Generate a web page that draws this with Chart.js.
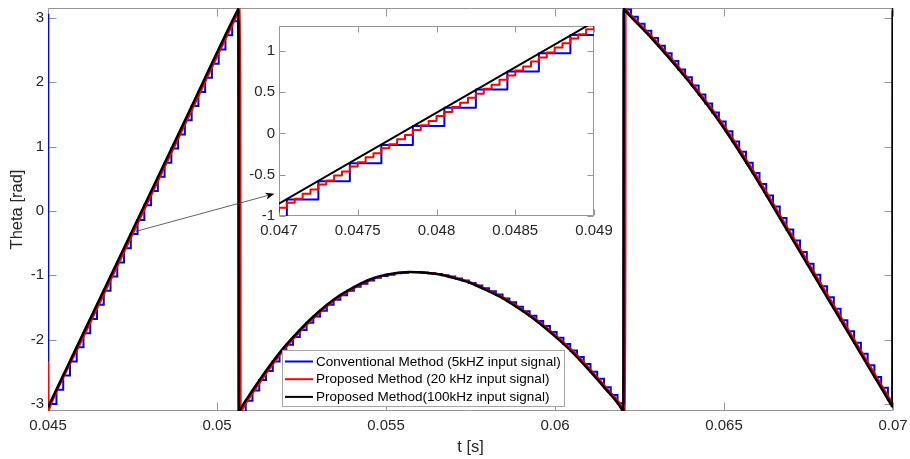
<!DOCTYPE html>
<html>
<head>
<meta charset="utf-8">
<script src="https://cdn.jsdelivr.net/npm/chart.js@4.4.1/dist/chart.umd.min.js"></script>
<style>
html, body { margin: 0; padding: 0; background: #fff; }
#wrap { position: relative; width: 910px; height: 459px; }
#main { position: absolute; left: 0; top: 0; }
#zoom { position: absolute; left: 230px; top: 15px; }
</style>
</head>
<body>
<div id="wrap">
  <canvas id="main" width="910" height="459"></canvas>
  <canvas id="zoom" width="400" height="240"></canvas>
</div>
<script>
// series names (legend)
const seriesNames = [
  'Conventional Method (5kHZ input signal)',
  'Proposed Method (20 kHz input signal)',
  'Proposed Method(100kHz input signal)'
];
const xTitle = 't [s]';
const yTitle = 'Theta [rad]';

// axis ticks
const xTicks = [0.045, 0.05, 0.055, 0.06, 0.065, 0.07];
const xTickLabels = ['0.045', '0.05', '0.055', '0.06', '0.065', '0.07'];
const yTicks = [-3, -2, -1, 0, 1, 2, 3];
const yTickLabels = ['-3', '-2', '-1', '0', '1', '2', '3'];
const zoomXTicks = [0.047, 0.0475, 0.048, 0.0485, 0.049];
const zoomXTickLabels = ['0.047', '0.0475', '0.048', '0.0485', '0.049'];
const zoomYTicks = [-1, -0.5, 0, 0.5, 1];
const zoomYTickLabels = ['-1', '-0.5', '0', '0.5', '1'];

// conventional method, 5 kHz samples (zero order hold)
const blueT = [0.045, 0.04501,
  0.04505, 0.04525, 0.04545, 0.04565, 0.04585, 0.04605, 0.04625, 0.04645, 0.04665, 0.04685,
  0.04705, 0.04725, 0.04745, 0.04765, 0.04785, 0.04805, 0.04825, 0.04845, 0.04865, 0.04885,
  0.04905, 0.04925, 0.04945, 0.04965, 0.04985, 0.05005, 0.05025, 0.05045, 0.05065, 0.05085,
  0.05105, 0.05125, 0.05145, 0.05165, 0.05185, 0.05205, 0.05225, 0.05245, 0.05265, 0.05285,
  0.05305, 0.05325, 0.05345, 0.05365, 0.05385, 0.05405, 0.05425, 0.05445, 0.05465, 0.05485,
  0.05505, 0.05525, 0.05545, 0.05565, 0.05585, 0.05605, 0.05625, 0.05645, 0.05665, 0.05685,
  0.05705, 0.05725, 0.05745, 0.05765, 0.05785, 0.05805, 0.05825, 0.05845, 0.05865, 0.05885,
  0.05905, 0.05925, 0.05945, 0.05965, 0.05985, 0.06005, 0.06025, 0.06045, 0.06065, 0.06085,
  0.06105, 0.06125, 0.06145, 0.06165, 0.06185, 0.06205, 0.06225, 0.06245, 0.06265, 0.06285,
  0.06305, 0.06325, 0.06345, 0.06365, 0.06385, 0.06405, 0.06425, 0.06445, 0.06465, 0.06485,
  0.06505, 0.06525, 0.06545, 0.06565, 0.06585, 0.06605, 0.06625, 0.06645, 0.06665, 0.06685,
  0.06705, 0.06725, 0.06745, 0.06765, 0.06785, 0.06805, 0.06825, 0.06845, 0.06865, 0.06885,
  0.06905, 0.06925, 0.06945, 0.06965, 0.06985, 0.07];
const blueV = [3.05, -3.05,
  -3.00, -2.78, -2.56, -2.34, -2.12, -1.90, -1.68, -1.46, -1.24, -1.02,
  -0.80, -0.58, -0.36, -0.14, 0.09, 0.31, 0.53, 0.75, 0.97, 1.19,
  1.41, 1.63, 1.85, 2.07, 2.29, 2.51, 2.73, 2.95, -3.12, -2.95,
  -2.79, -2.63, -2.49, -2.34, -2.21, -2.08, -1.96, -1.85, -1.74, -1.64,
  -1.55, -1.46, -1.38, -1.31, -1.24, -1.18, -1.13, -1.08, -1.04, -1.01,
  -0.99, -0.97, -0.96, -0.95, -0.95, -0.96, -0.97, -0.98, -1.00, -1.02,
  -1.05, -1.08, -1.12, -1.16, -1.20, -1.25, -1.30, -1.36, -1.42, -1.49,
  -1.56, -1.63, -1.71, -1.79, -1.88, -1.97, -2.07, -2.17, -2.27, -2.38,
  -2.50, -2.61, -2.74, -2.86, -2.99, 3.13, 3.02, 2.91, 2.80, 2.69,
  2.57, 2.45, 2.33, 2.20, 2.08, 1.95, 1.81, 1.67, 1.53, 1.39,
  1.24, 1.08, 0.92, 0.75, 0.59, 0.42, 0.24, 0.07, -0.11, -0.29,
  -0.46, -0.64, -0.82, -0.99, -1.17, -1.34, -1.52, -1.70, -1.87, -2.05,
  -2.22, -2.40, -2.58, -2.75, -2.93, -2.93];

// proposed method, 20 kHz (main view)
const redT = [0.045, 0.04501, 0.04503, 0.04606, 0.04756, 0.04906, 0.05066, 0.05069,
  0.0507, 0.05076, 0.05106, 0.05156, 0.05206, 0.05256, 0.05306, 0.05356, 0.05406, 0.05456,
  0.05506, 0.05576, 0.05656, 0.05706, 0.05756, 0.05806, 0.05856, 0.05906, 0.05956, 0.06006,
  0.06056, 0.06106, 0.06156, 0.06204, 0.06208, 0.06209, 0.06214, 0.06296, 0.06396, 0.06496,
  0.06596, 0.06696, 0.06796, 0.06896, 0.06996, 0.07006];
const redV = [-2.34, -3.11, -3.08, -1.95, -0.30, 1.35, 3.11, 3.14,
  -3.14, -3.075, -2.83, -2.45, -2.11, -1.82, -1.57, -1.36, -1.20, -1.07,
  -0.99, -0.95, -0.98, -1.04, -1.12, -1.24, -1.37, -1.54, -1.73, -1.95,
  -2.19, -2.47, -2.77, -3.09, -3.14, 3.14, 3.11, 2.66, 2.05, 1.36,
  0.55, -0.33, -1.21, -2.09, -2.97, -3.06];

// proposed method, 20 kHz samples inside the zoom window
const redZoomT = [0.04695, 0.04700, 0.04705, 0.04710, 0.04715, 0.04720, 0.04725, 0.04730,
  0.04735, 0.04740, 0.04745, 0.04750, 0.04755, 0.04760, 0.04765, 0.04770, 0.04775, 0.04780,
  0.04785, 0.04790, 0.04795, 0.04800, 0.04805, 0.04810, 0.04815, 0.04820, 0.04825, 0.04830,
  0.04835, 0.04840, 0.04845, 0.04850, 0.04855, 0.04860, 0.04865, 0.04870, 0.04875, 0.04880,
  0.04885, 0.04890, 0.04895, 0.04900, 0.04905];
const redZoomV = [-0.95, -0.90, -0.84, -0.79, -0.73, -0.68, -0.62, -0.57,
  -0.51, -0.46, -0.40, -0.35, -0.29, -0.24, -0.18, -0.13, -0.07, -0.02,
  0.04, 0.10, 0.15, 0.21, 0.26, 0.32, 0.37, 0.43, 0.48, 0.54,
  0.59, 0.65, 0.70, 0.76, 0.81, 0.87, 0.92, 0.98, 1.04, 1.09,
  1.15, 1.20, 1.26, 1.31, 1.37];

// proposed method, 100 kHz
const blackT = [0.045, 0.046, 0.0475, 0.049, 0.0506, 0.05063, 0.05064, 0.0507, 0.0510,
  0.0515, 0.0520, 0.0525, 0.0530, 0.0535, 0.0540, 0.0545, 0.0550, 0.0557, 0.0565, 0.0570,
  0.0575, 0.0580, 0.0585, 0.0590, 0.0595, 0.0600, 0.0605, 0.0610, 0.0615, 0.06198,
  0.06202, 0.06203, 0.06208, 0.0629, 0.0639, 0.0649, 0.0659, 0.0669, 0.0679, 0.0689,
  0.0699, 0.06998, 0.06999, 0.07];
const blackV = [-3.05, -1.95, -0.30, 1.35, 3.11, 3.14, -3.14, -3.075, -2.83,
  -2.45, -2.11, -1.82, -1.57, -1.36, -1.20, -1.07, -0.99, -0.95, -0.98, -1.04,
  -1.12, -1.24, -1.37, -1.54, -1.73, -1.95, -2.19, -2.47, -2.77, -3.09,
  -3.14, 3.14, 3.11, 2.66, 2.05, 1.36, 0.55, -0.33, -1.21, -2.09,
  -2.97, -3.04, 3.14, 3.13];

// arrow from the curve to the zoom box (data coords)
const arrowFrom = { x: 0.047605, y: -0.317 };
const arrowTo = { x: 0.0517, y: 0.269 };

const FONT = '"Liberation Sans", Arial, Helvetica, sans-serif';
const AXIS_GRAY = '#969696';
const TEXT_GRAY = '#262626';
const seriesColors = ['#0000ff', '#ff0000', '#000000'];

function pts(ts, vs) {
  return ts.map((t, i) => ({ x: t, y: vs[i] }));
}

// keep chart.js from reserving room for overhanging tick labels
function noPad(s) {
  s.paddingLeft = 0; s.paddingRight = 0; s.paddingTop = 0; s.paddingBottom = 0;
}

// matlab style box with inward ticks
const matlabBox = {
  id: 'matlabBox',
  beforeDraw(chart, args, opts) {
    const a = chart.chartArea, ctx = chart.ctx;
    ctx.save();
    ctx.fillStyle = '#fff';
    ctx.fillRect(a.left, a.top, a.right - a.left, a.bottom - a.top);
    ctx.restore();
  },
  beforeDatasetsDraw(chart, args, opts) {
    const a = chart.chartArea, ctx = chart.ctx;
    const x = chart.scales.x, y = chart.scales.y;
    const L = opts.len || 8;
    const l = Math.round(a.left) + 0.5, r = Math.round(a.right) - 0.5;
    const t = Math.round(a.top) + 0.5, b = Math.round(a.bottom) - 0.5;
    ctx.save();
    ctx.strokeStyle = AXIS_GRAY;
    ctx.lineWidth = 1;
    ctx.beginPath();
    ctx.rect(l, t, r - l, b - t);
    x.ticks.forEach(tk => {
      const px = Math.round(x.getPixelForValue(tk.value)) + 0.5;
      ctx.moveTo(px, b); ctx.lineTo(px, b - L);
      ctx.moveTo(px, t); ctx.lineTo(px, t + L);
    });
    y.ticks.forEach(tk => {
      const py = Math.round(y.getPixelForValue(tk.value)) + 0.5;
      ctx.moveTo(l, py); ctx.lineTo(l + L, py);
      ctx.moveTo(r, py); ctx.lineTo(r - L, py);
    });
    ctx.stroke();
    ctx.restore();
  }
};

// axis titles, arrow and legend of the main axes
const mainDecor = {
  id: 'mainDecor',
  afterDatasetsDraw(chart) {
    const ctx = chart.ctx, x = chart.scales.x, y = chart.scales.y;
    const x0 = x.getPixelForValue(arrowFrom.x), y0 = y.getPixelForValue(arrowFrom.y);
    const x1 = x.getPixelForValue(arrowTo.x), y1 = y.getPixelForValue(arrowTo.y);
    const ang = Math.atan2(y1 - y0, x1 - x0);
    ctx.save();
    ctx.strokeStyle = '#3a3a3a';
    ctx.lineWidth = 0.8;
    ctx.beginPath();
    ctx.moveTo(x0, y0);
    ctx.lineTo(x1 - 6 * Math.cos(ang), y1 - 6 * Math.sin(ang));
    ctx.stroke();
    ctx.fillStyle = '#000';
    ctx.translate(x1, y1);
    ctx.rotate(ang);
    ctx.beginPath();
    ctx.moveTo(0, 0);
    ctx.lineTo(-9, -3.5);
    ctx.lineTo(-6.5, 0);
    ctx.lineTo(-9, 3.5);
    ctx.closePath();
    ctx.fill();
    ctx.restore();
  },
  afterDraw(chart) {
    const ctx = chart.ctx, a = chart.chartArea;
    ctx.save();
    ctx.fillStyle = TEXT_GRAY;
    ctx.font = '16.5px ' + FONT;
    ctx.textAlign = 'center';
    ctx.textBaseline = 'middle';
    ctx.fillText(xTitle, (a.left + a.right) / 2, 447.5);
    ctx.translate(17, (a.top + a.bottom) / 2);
    ctx.rotate(-Math.PI / 2);
    ctx.fillText(yTitle, 0, 0);
    ctx.restore();

    // legend
    const bx = 282.5, by = 350.5, bw = 282, bh = 56;
    ctx.save();
    ctx.fillStyle = '#fff';
    ctx.fillRect(bx, by, bw, bh);
    ctx.strokeStyle = '#a6a6a6';
    ctx.lineWidth = 1;
    ctx.strokeRect(bx, by, bw, bh);
    ctx.font = '13.5px ' + FONT;
    ctx.textAlign = 'left';
    ctx.textBaseline = 'middle';
    seriesNames.forEach((name, i) => {
      const ry = 361.5 + i * 17.7;
      ctx.strokeStyle = seriesColors[i];
      ctx.lineWidth = 2;
      ctx.beginPath();
      ctx.moveTo(285, ry);
      ctx.lineTo(313, ry);
      ctx.stroke();
      ctx.fillStyle = '#000';
      ctx.fillText(name, 316, ry + 0.5);
    });
    ctx.restore();
  }
};

function tickFont() {
  return { family: FONT, size: 15 };
}

// main axes
new Chart(document.getElementById('main'), {
  type: 'line',
  data: {
    datasets: [
      { label: seriesNames[0], data: pts(blueT, blueV), borderColor: seriesColors[0],
        borderWidth: 2, stepped: true, pointRadius: 0, fill: false, order: 3 },
      { label: seriesNames[1], data: pts(redT, redV), borderColor: seriesColors[1],
        borderWidth: 2, cubicInterpolationMode: 'monotone', pointRadius: 0, fill: false, order: 2 },
      { label: seriesNames[2], data: pts(blackT, blackV), borderColor: seriesColors[2],
        borderWidth: 2.5, cubicInterpolationMode: 'monotone', pointRadius: 0, fill: false, order: 1 }
    ]
  },
  options: {
    responsive: false,
    animation: false,
    events: [],
    layout: { padding: { left: 0, top: 8, right: 17, bottom: 0 } },
    elements: { line: { capBezierPoints: false, borderJoinStyle: 'miter' } },
    plugins: { legend: { display: false }, tooltip: { enabled: false }, matlabBox: { len: 8 } },
    scales: {
      x: {
        type: 'linear', min: 0.045, max: 0.07,
        grid: { display: false, drawTicks: false }, border: { display: false },
        afterBuildTicks: s => { s.ticks = xTicks.map(v => ({ value: v })); },
        afterFit: s => { s.height = 48; noPad(s); },
        ticks: { autoSkip: false, maxRotation: 0, padding: 6, color: TEXT_GRAY, font: tickFont(),
          callback: v => xTickLabels[xTicks.indexOf(v)] }
      },
      y: {
        type: 'linear', min: -3.11, max: 3.155,
        grid: { display: false, drawTicks: false }, border: { display: false },
        afterBuildTicks: s => { s.ticks = yTicks.map(v => ({ value: v })); },
        afterFit: s => { s.width = 48; noPad(s); },
        ticks: { autoSkip: false, padding: 4, color: TEXT_GRAY, font: tickFont(),
          callback: v => yTickLabels[yTicks.indexOf(v)] }
      }
    }
  },
  plugins: [matlabBox, mainDecor]
});

// zoom inset
new Chart(document.getElementById('zoom'), {
  type: 'line',
  data: {
    datasets: [
      { label: seriesNames[0], data: pts(blueT, blueV), borderColor: seriesColors[0],
        borderWidth: 2, stepped: true, pointRadius: 0, fill: false, order: 3 },
      { label: seriesNames[1], data: pts(redZoomT, redZoomV), borderColor: seriesColors[1],
        borderWidth: 2, stepped: true, pointRadius: 0, fill: false, order: 2 },
      { label: seriesNames[2], data: pts(blackT, blackV), borderColor: seriesColors[2],
        borderWidth: 2, cubicInterpolationMode: 'monotone', pointRadius: 0, fill: false, order: 1 }
    ]
  },
  options: {
    responsive: false,
    animation: false,
    events: [],
    layout: { padding: { left: 0, top: 11, right: 36, bottom: 0 } },
    elements: { line: { capBezierPoints: false, borderJoinStyle: 'round' } },
    plugins: { legend: { display: false }, tooltip: { enabled: false }, matlabBox: { len: 6 } },
    scales: {
      x: {
        type: 'linear', min: 0.047, max: 0.049,
        grid: { display: false, drawTicks: false }, border: { display: false },
        afterBuildTicks: s => { s.ticks = zoomXTicks.map(v => ({ value: v })); },
        afterFit: s => { s.height = 39; noPad(s); },
        ticks: { autoSkip: false, maxRotation: 0, padding: 6, color: TEXT_GRAY, font: tickFont(),
          callback: v => zoomXTickLabels[zoomXTicks.indexOf(v)] }
      },
      y: {
        type: 'linear', min: -1, max: 1.3,
        grid: { display: false, drawTicks: false }, border: { display: false },
        afterBuildTicks: s => { s.ticks = zoomYTicks.map(v => ({ value: v })); },
        afterFit: s => { s.width = 49; noPad(s); },
        ticks: { autoSkip: false, padding: 4, color: TEXT_GRAY, font: tickFont(),
          callback: v => zoomYTickLabels[zoomYTicks.indexOf(v)] }
      }
    }
  },
  plugins: [matlabBox]
});
</script>
</body>
</html>
